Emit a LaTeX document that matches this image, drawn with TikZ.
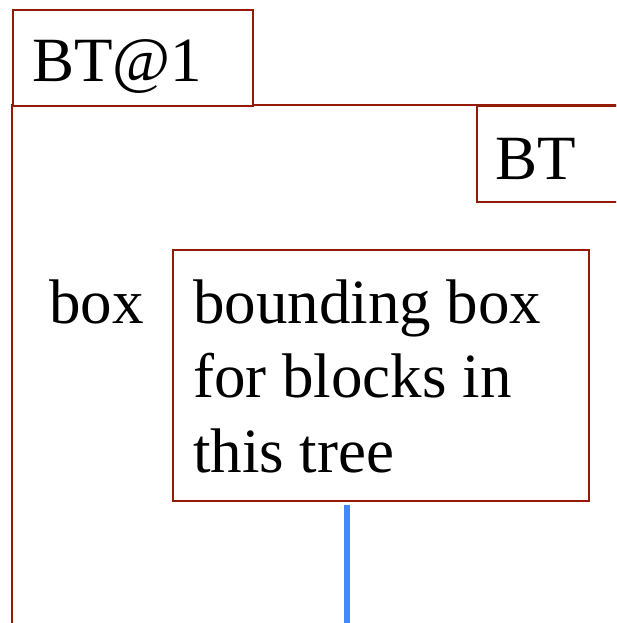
\documentclass[tikz,border=0pt]{standalone}
\usepackage{fontspec}
\setmainfont{Liberation Serif}
\definecolor{framered}{RGB}{148,26,4}
\definecolor{linkblue}{RGB}{72,134,255}
\begin{document}
\begin{tikzpicture}[x=1pt,y=1pt,
  every node/.style={font=\fontsize{63}{74.5}\selectfont,inner sep=0pt},
  frame/.style={draw=framered,line width=2.3pt},
  tagbox/.style={frame,rectangle,fill=white,anchor=north west},
  caption/.style={anchor=base west},
  link/.style={draw=linkblue,line width=5.5pt}]
\useasboundingbox (0,0) rectangle (616,-623);
\clip (0,0) rectangle (616,-623);
% outer frame of the tree
\draw[frame] (12,-105) rectangle (900,-900);
% header tag
\node[tagbox,minimum width=240pt,minimum height=96pt] (bt1) at (12,-9) {};
\node[caption] (bt1txt) at (32,-82) {BT@1};
% inner tag at the right edge
\node[tagbox,minimum width=240pt,minimum height=96pt] (bt) at (476,-105) {};
\node[caption] (bttxt) at (495,-179) {BT};
% field label and its value box
\node[caption] (boxlbl) at (49,-323) {box};
\node[tagbox,minimum width=416pt,minimum height=251pt] (bb) at (172,-249) {};
% a multi-line node sits on the baseline of its last line
\node[caption,align=left] (bbtxt) at (193,-472)
  {bounding box\\for blocks in\\this tree};
% link leaving the value box
\coordinate (linktop) at (347,-505);
\coordinate (linkend) at (347,-640);
\draw[link] (linktop) -- (linkend);
\end{tikzpicture}
\end{document}
